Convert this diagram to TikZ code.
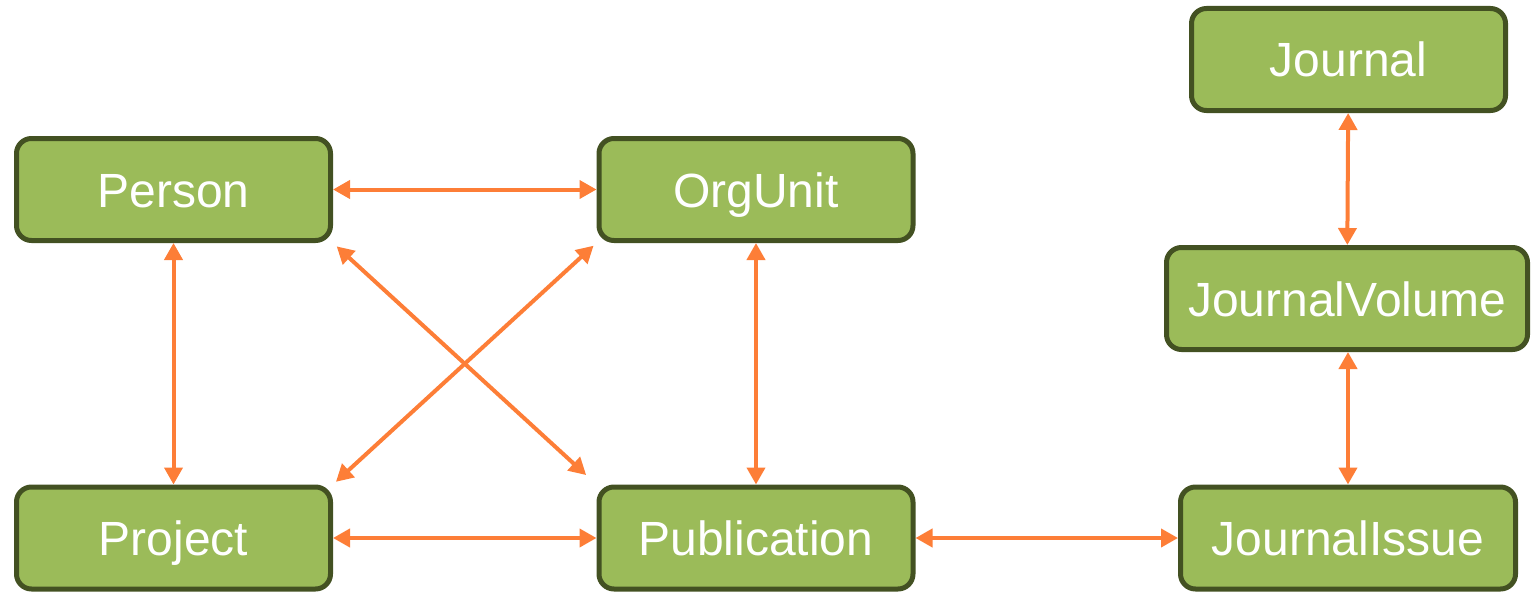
\documentclass[tikz,border=0pt]{standalone}
\usepackage{fontspec}
\setmainfont{Liberation Sans}
\usetikzlibrary{arrows.meta}
\definecolor{boxfill}{RGB}{155,187,89}
\definecolor{boxline}{RGB}{67,81,34}
\definecolor{linkcol}{RGB}{253,126,55}
\begin{document}
\begin{tikzpicture}[
        x = 1pt, y = -1pt,
        entity/.style = {draw = boxline, line width = 5pt, fill = boxfill,
          rounded corners = 15pt, minimum width = 314pt, minimum height = 102pt,
          text = white, font = \fontsize{48}{52}\selectfont, inner sep = 0pt,
          text height = 35pt, text depth = 0pt},
        link/.style = {{Triangle[length = 17pt, width = 18pt]}-{Triangle[length = 17pt, width = 18pt]},
          draw = linkcol, line width = 4pt}
      ]
      \useasboundingbox (0, 0) rectangle (1532, 594);
      % nodes
      \node[entity] (per)  at (173.5, 189.5) {Person};
      \node[entity] (org)  at (756, 189.5)   {OrgUnit};
      \node[entity] (proj) at (173.5, 538)   {Project};
      \node[entity] (pub)  at (756, 538)     {Publication};
      \node[entity, minimum width = 335pt] (iss) at (1348, 538)   {JournalIssue};
      \node[entity, minimum width = 361pt] (vol) at (1347, 298.5) {JournalVolume};
      \node[entity] (jou)  at (1348.5, 59.5) {Journal};
      % links
      \draw[link] (per)  -- (org);
      \draw[link] (per)  -- (proj);
      \draw[link] (org)  -- (pub);
      \draw[link] (proj) -- (pub);
      \draw[link] (pub)  -- (iss);
      \draw[link] (jou)  -- (vol);
      \draw[link] (vol.south -| iss.north) -- (iss);
      \draw[link, shorten < = 5pt, shorten > = 14pt] (per.south east) -- (pub.north west);
      \draw[link, shorten < = 4pt, shorten > = 4pt] (org.south west) -- (proj.north east);
    \end{tikzpicture}
\end{document}
